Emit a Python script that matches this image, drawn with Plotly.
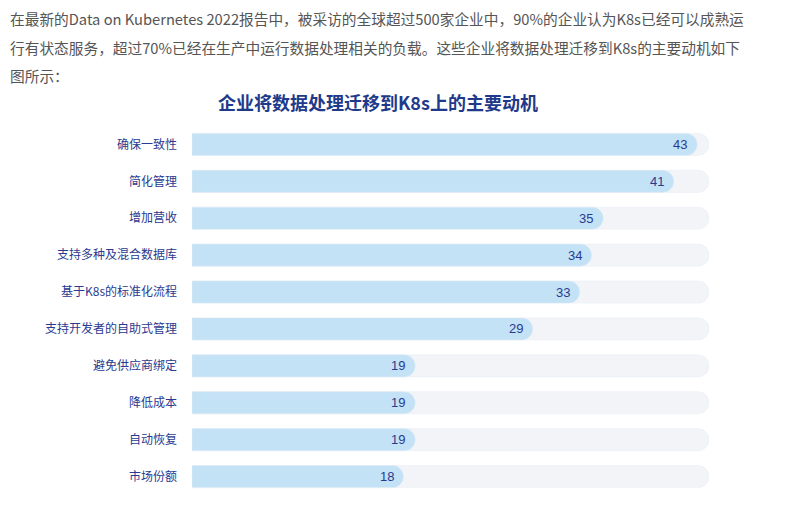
import plotly.graph_objects as go

# ---- data ----
categories = ["确保一致性", "简化管理", "增加营收", "支持多种及混合数据库", "基于K8s的标准化流程",
              "支持开发者的自助式管理", "避免供应商绑定", "降低成本", "自动恢复", "市场份额"]
values = [43, 41, 35, 34, 33, 29, 19, 19, 19, 18]
track_max = 44

chart_title = "企业将数据处理迁移到K8s上的主要动机"
intro_lines = [
    "在最新的Data on Kubernetes 2022报告中，被采访的全球超过500家企业中，90%的企业认为K8s已经可以成熟运",
    "行有状态服务，超过70%已经在生产中运行数据处理相关的负载。这些企业将数据处理迁移到K8s的主要动机如下",
    "图所示：",
]

# ---- layout geometry (screen pixels; page body has an 8px margin) ----
OFF = 8
W, H = 793 - OFF, 505 - OFF
L, R = 192 - OFF, 709 - OFF
T, B = 125.5 - OFF, 495.5 - OFF

def px_x(x):
    return (x - OFF - L) / (R - L)

def px_y(y):
    return (B - (y - OFF)) / (B - T)

NAVY = "#2A3A8F"
fig = go.Figure()
# background track on the base x axis
fig.add_trace(go.Bar(
    y=categories, x=[track_max] * len(categories), orientation="h",
    marker=dict(color="#F3F4F7", cornerradius=11), width=0.6,
    hoverinfo="skip", showlegend=False, xaxis="x", yaxis="y",
))
# value bars on an overlaying x axis (separate subplot -> own rounded ends)
fig.add_trace(go.Bar(
    y=categories, x=values, orientation="h",
    marker=dict(color="#C3E2F5", cornerradius=11), width=0.6,
    showlegend=False, xaxis="x2", yaxis="y",
))

annotations = []
for c, v in zip(categories, values):
    annotations.append(dict(
        text=str(v), x=v, y=c, xref="x2", yref="y", xanchor="right", yanchor="middle",
        xshift=-8, showarrow=False,
        font=dict(family="Liberation Sans, Arial, sans-serif", size=13, color=NAVY),
    ))
for i, line in enumerate(intro_lines):
    annotations.append(dict(
        text=line, xref="paper", yref="paper", x=px_x(8), y=px_y(18 + i * 28.5),
        xanchor="left", yanchor="middle", showarrow=False,
        font=dict(family="Noto Sans CJK SC", size=14.7, color="#555555"),
    ))
annotations.append(dict(
    text="<b>" + chart_title + "</b>", xref="paper", yref="paper", x=px_x(378), y=px_y(101),
    xanchor="center", yanchor="middle", showarrow=False,
    font=dict(family="Noto Sans CJK SC", size=18, color="#1F3A8A"),
))

fig.update_layout(
    width=W, height=H,
    margin=dict(l=L, r=W - R, t=T, b=H - B, pad=0),
    paper_bgcolor="white", plot_bgcolor="white",
    barmode="overlay",
    annotations=annotations,
    xaxis=dict(range=[0, track_max], visible=False, fixedrange=True),
    xaxis2=dict(range=[0, track_max], visible=False, fixedrange=True, overlaying="x"),
    yaxis=dict(autorange="reversed", showgrid=False, zeroline=False, showline=False,
               ticks="", ticklabelstandoff=14,
               tickfont=dict(family="Noto Sans CJK SC", size=12, color=NAVY)),
)

fig.write_html("out.html")
